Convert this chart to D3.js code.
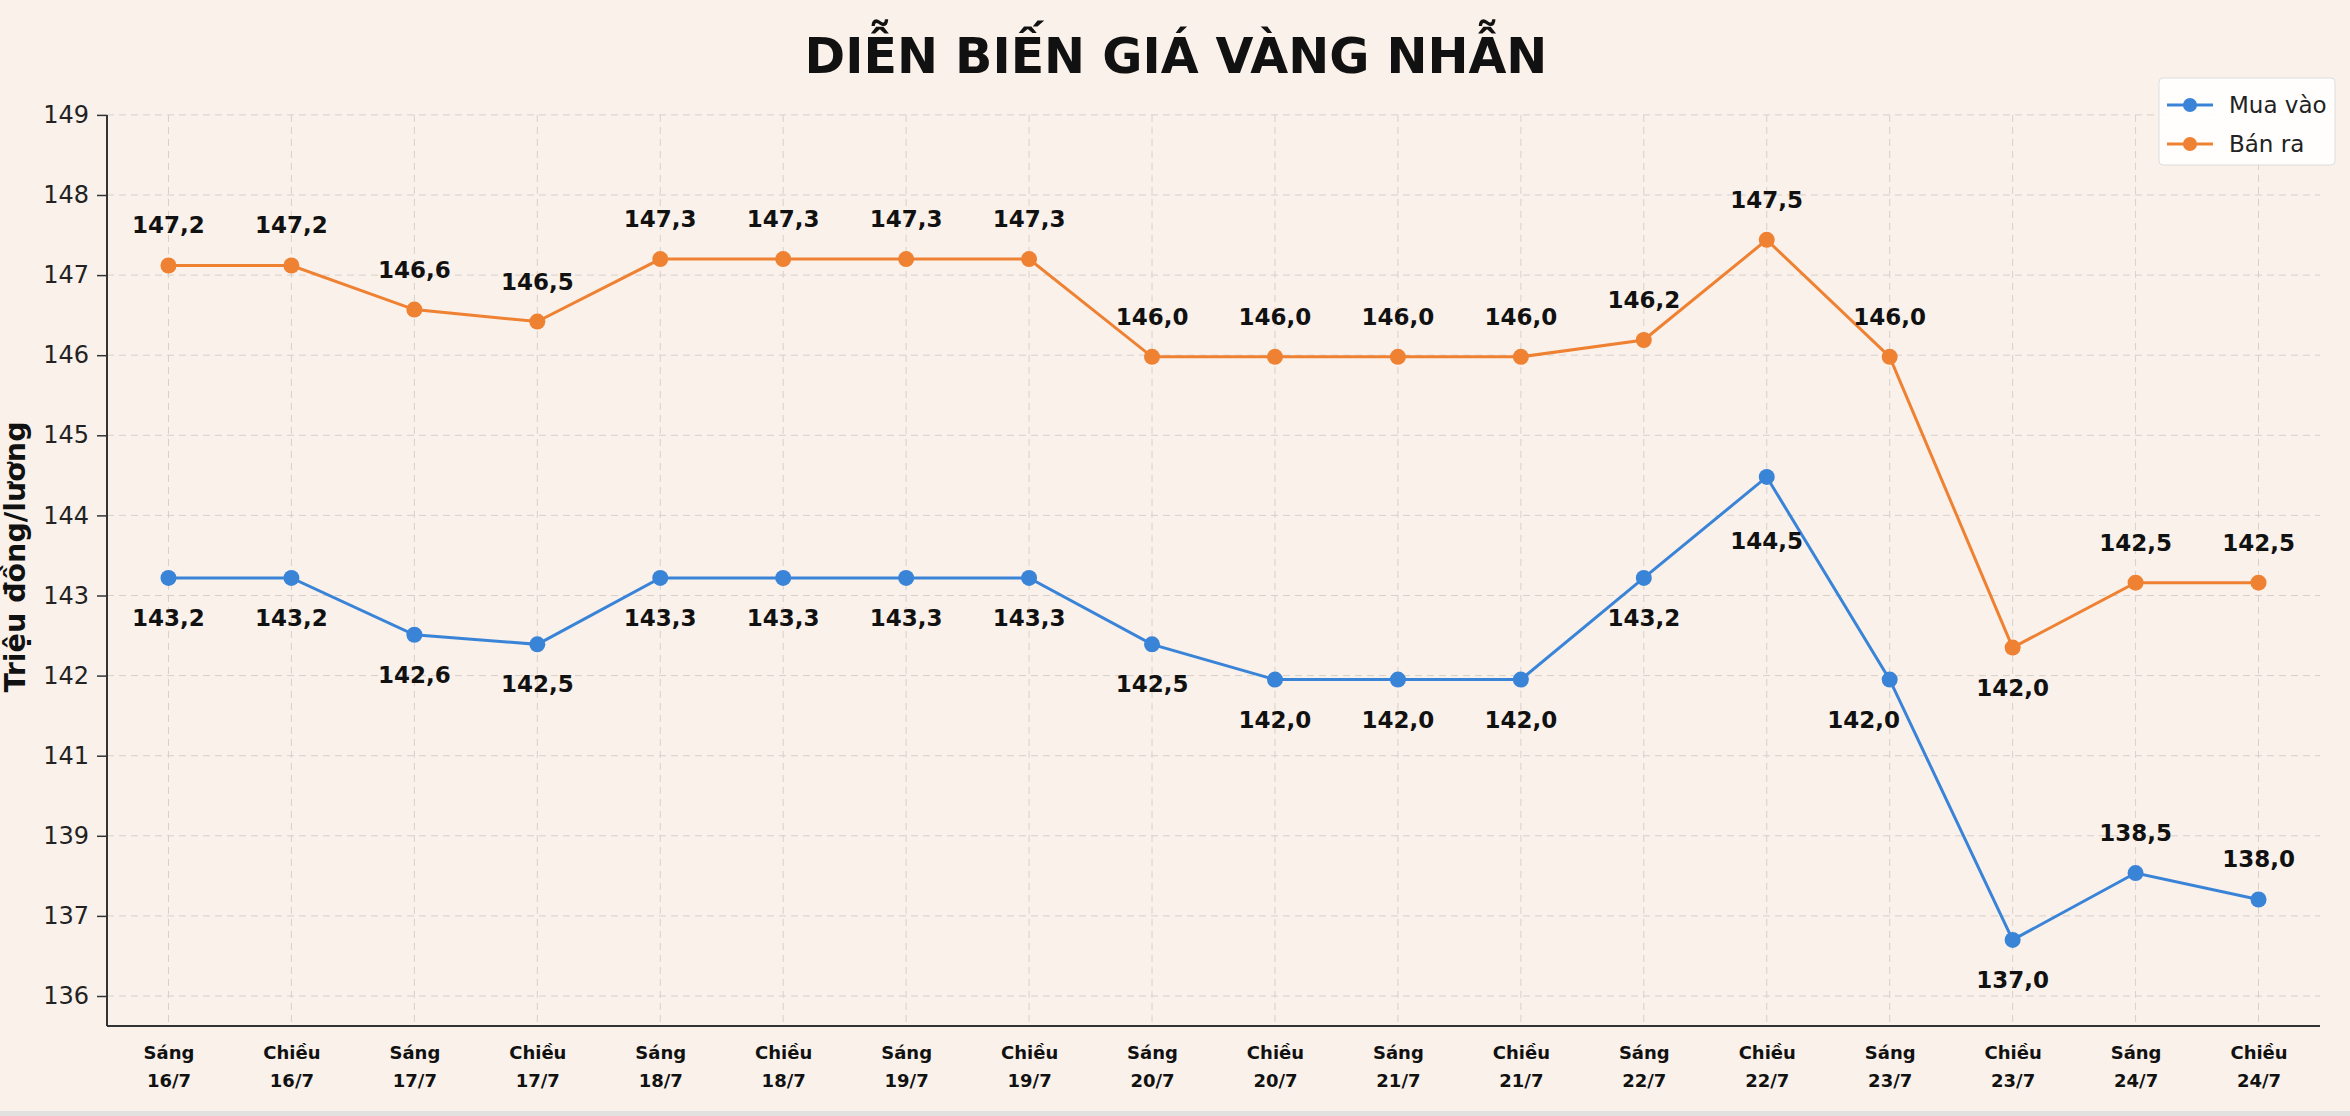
<!DOCTYPE html>
<html>
<head>
<meta charset="utf-8">
<script src="https://cdn.jsdelivr.net/npm/d3@7"></script>
<style>
  body { margin: 0; background: #faf1eb; }
  svg { display: block; font-family: "DejaVu Sans", sans-serif; }
</style>
</head>
<body>
<script>
const periods = ['Sáng', 'Chiều', 'Sáng', 'Chiều', 'Sáng', 'Chiều', 'Sáng', 'Chiều', 'Sáng',
  'Chiều', 'Sáng', 'Chiều', 'Sáng', 'Chiều', 'Sáng', 'Chiều', 'Sáng', 'Chiều'];
const dates = ['16/7', '16/7', '17/7', '17/7', '18/7', '18/7', '19/7', '19/7', '20/7',
  '20/7', '21/7', '21/7', '22/7', '22/7', '23/7', '23/7', '24/7', '24/7'];
const categories = periods.map((p, i) => p + ' ' + dates[i]);

// tick labels on the y axis (140 and 138 are not shown in the original)
const yTicks = [136, 137, 139, 141, 142, 143, 144, 145, 146, 147, 148, 149];

// plotted positions
const muaVao = [143.22, 143.22, 142.51, 142.39, 143.22, 143.22, 143.22, 143.22, 142.39,
  141.95, 141.95, 141.95, 143.22, 144.48, 141.95, 136.70, 138.07, 137.41];
const banRa = [147.12, 147.12, 146.57, 146.42, 147.2, 147.2, 147.2, 147.2, 145.98,
  145.98, 145.98, 145.98, 146.19, 147.44, 145.98, 142.35, 143.16, 143.16];

// annotation texts as printed on the chart
const muaVaoLabels = ['143,2', '143,2', '142,6', '142,5', '143,3', '143,3', '143,3', '143,3', '142,5',
  '142,0', '142,0', '142,0', '143,2', '144,5', '142,0', '137,0', '138,5', '138,0'];
const banRaLabels = ['147,2', '147,2', '146,6', '146,5', '147,3', '147,3', '147,3', '147,3', '146,0',
  '146,0', '146,0', '146,0', '146,2', '147,5', '146,0', '142,0', '142,5', '142,5'];

w = 2350;
h = 1116;
const plotLeft = 107, plotRight = 2320, plotBottom = 1026;
const tickStep = 80.1, lowTickY = 996;

const blue = '#3a84d8';
const orange = '#ef8132';

let xScale = d3.scalePoint()
  .domain(categories)
  .range([plotLeft, plotRight])
  .padding(0.5);

// ticks are spaced evenly even though their values are not
let yScale = d3.scaleLinear()
  .domain(yTicks)
  .range(yTicks.map((d, i) => lowTickY - i * tickStep));

const plotTop = yScale(149);

svg = d3.select('body')
  .append('svg')
  .attr('width', w)
  .attr('height', h);

svg.append('rect')
  .attr('width', w).attr('height', h)
  .attr('fill', '#faf1eb');
svg.append('rect')
  .attr('y', h - 5).attr('width', w).attr('height', 5)
  .attr('fill', '#e3e1df');

// grid
svg.append('g')
  .selectAll('line')
  .data(yTicks)
  .enter()
  .append('line')
  .attr('x1', plotLeft).attr('x2', plotRight)
  .attr('y1', d => yScale(d)).attr('y2', d => yScale(d))
  .attr('stroke', '#d6d0cb')
  .attr('stroke-width', 1)
  .attr('stroke-dasharray', '7,5');

svg.append('g')
  .selectAll('line')
  .data(categories)
  .enter()
  .append('line')
  .attr('x1', d => xScale(d)).attr('x2', d => xScale(d))
  .attr('y1', plotTop).attr('y2', plotBottom)
  .attr('stroke', '#d6d0cb')
  .attr('stroke-width', 1)
  .attr('stroke-dasharray', '7,5');

// axes
let yAxis = d3.axisLeft(yScale)
  .tickValues(yTicks)
  .tickFormat(d3.format('d'))
  .tickSize(10)
  .tickSizeOuter(0)
  .tickPadding(8);

let gy = svg.append('g')
  .attr('transform', `translate(${plotLeft}, 0)`)
  .call(yAxis);
gy.select('.domain').remove();
gy.selectAll('line').attr('stroke', '#333').attr('stroke-width', 1.5);
gy.selectAll('text')
  .attr('font-family', '"DejaVu Sans", sans-serif')
  .attr('font-size', 24)
  .attr('fill', '#222');

let xAxis = d3.axisBottom(xScale)
  .tickSize(0)
  .tickSizeOuter(0)
  .tickPadding(0)
  .tickFormat('');

let gx = svg.append('g')
  .attr('transform', `translate(0, ${plotBottom})`)
  .call(xAxis);
gx.select('.domain').remove();
gx.selectAll('.tick text').remove();
gx.selectAll('.tick')
  .append('text')
  .attr('text-anchor', 'middle')
  .attr('font-family', '"DejaVu Sans", sans-serif')
  .attr('font-size', 18)
  .attr('font-weight', 'bold')
  .attr('fill', '#111')
  .each(function (d, i) {
    d3.select(this).append('tspan').attr('x', 0).attr('y', 33).text(periods[i]);
    d3.select(this).append('tspan').attr('x', 0).attr('y', 61).text(dates[i]);
  });

// spines
svg.append('line')
  .attr('x1', plotLeft).attr('x2', plotLeft)
  .attr('y1', plotTop).attr('y2', plotBottom)
  .attr('stroke', '#333').attr('stroke-width', 2);
svg.append('line')
  .attr('x1', plotLeft).attr('x2', plotRight)
  .attr('y1', plotBottom).attr('y2', plotBottom)
  .attr('stroke', '#333').attr('stroke-width', 2);

// series
const series = [
  { key: 'muaVao', name: 'Mua vào', values: muaVao, labels: muaVaoLabels, color: blue,
    side: i => (i >= 16 ? -1 : 1) },
  { key: 'banRa', name: 'Bán ra', values: banRa, labels: banRaLabels, color: orange,
    side: i => (i === 15 ? 1 : -1) }
];

// a couple of labels are pushed off their point in the original
const nudge = { 'muaVao-13': [0, 24], 'muaVao-14': [-26, 0] };

let line = d3.line()
  .x((d, i) => xScale(categories[i]))
  .y(d => yScale(d));

series.forEach(s => {
  let g = svg.append('g');
  g.append('path')
    .datum(s.values)
    .attr('d', line)
    .attr('fill', 'none')
    .attr('stroke', s.color)
    .attr('stroke-width', 3);

  g.selectAll('circle')
    .data(s.values)
    .enter()
    .append('circle')
    .attr('cx', (d, i) => xScale(categories[i]))
    .attr('cy', d => yScale(d))
    .attr('r', 8)
    .attr('fill', s.color);

  g.selectAll('text')
    .data(s.values)
    .enter()
    .append('text')
    .text((d, i) => s.labels[i])
    .attr('x', (d, i) => xScale(categories[i]) + (nudge[s.key + '-' + i] || [0, 0])[0])
    .attr('y', (d, i) => yScale(d) + s.side(i) * 40 + 8 + (nudge[s.key + '-' + i] || [0, 0])[1])
    .attr('text-anchor', 'middle')
    .attr('font-family', '"DejaVu Sans", sans-serif')
    .attr('font-size', 23)
    .attr('font-weight', 'bold')
    .attr('fill', '#111');
});

// title
svg.append('text')
  .text('DIỄN BIẾN GIÁ VÀNG NHẪN')
  .attr('x', 1176)
  .attr('y', 73)
  .attr('text-anchor', 'middle')
  .attr('font-family', '"DejaVu Sans", sans-serif')
  .attr('font-size', 49)
  .attr('font-weight', 'bold')
  .attr('fill', '#111');

// y label
svg.append('text')
  .text('Triệu đồng/lương')
  .attr('transform', 'translate(25, 557) rotate(-90)')
  .attr('text-anchor', 'middle')
  .attr('font-family', '"DejaVu Sans", sans-serif')
  .attr('font-size', 28.5)
  .attr('font-weight', 'bold')
  .attr('fill', '#111');

// legend
let legend = svg.append('g').attr('transform', 'translate(2159, 78)');
legend.append('rect')
  .attr('width', 176).attr('height', 87)
  .attr('rx', 4)
  .attr('fill', '#fff')
  .attr('fill-opacity', 0.9)
  .attr('stroke', '#ddd');

let items = legend.selectAll('g.item')
  .data(series)
  .enter()
  .append('g')
  .attr('class', 'item')
  .attr('transform', (d, i) => `translate(0, ${27 + i * 39})`);
items.append('line')
  .attr('x1', 8).attr('x2', 54)
  .attr('stroke', d => d.color).attr('stroke-width', 3);
items.append('circle')
  .attr('cx', 31).attr('r', 7)
  .attr('fill', d => d.color);
items.append('text')
  .text(d => d.name)
  .attr('x', 70).attr('y', 8)
  .attr('font-family', '"DejaVu Sans", sans-serif')
  .attr('font-size', 23)
  .attr('fill', '#222');
</script>
</body>
</html>
